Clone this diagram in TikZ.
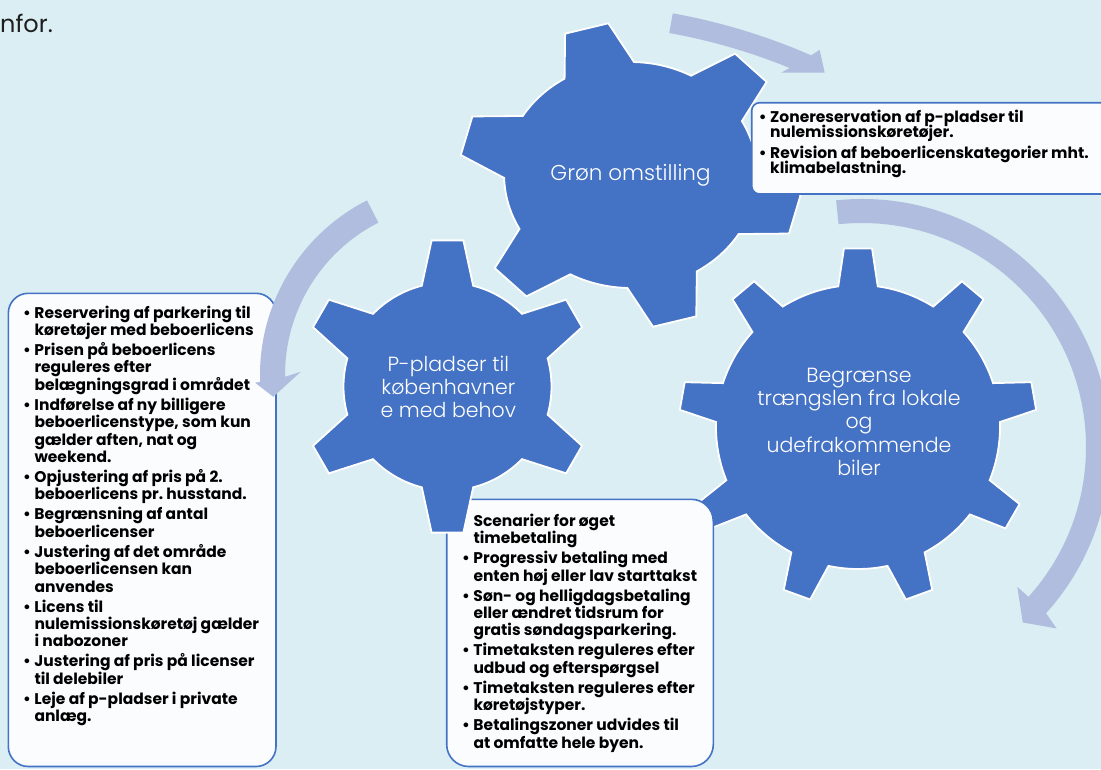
\documentclass[tikz,border=0pt]{standalone}
\usepackage{fontspec}
\setmainfont{Poppins}
\newfontfamily\tynd{Poppins Light}
\definecolor{baggrund}{HTML}{DAEEF3}
\definecolor{tandblaa}{HTML}{4472C4}
\definecolor{pilfarve}{HTML}{B0BDDF}
\definecolor{kassefyld}{HTML}{FAFCFD}
\definecolor{tekstgraa}{HTML}{1E1E1E}
\newlength{\radhoejde}
\newcommand{\linje}[1]{\hbox{\vrule height 0.7\radhoejde depth 0.3\radhoejde width 0pt\smash{#1}}}
\newcommand{\plinje}[1]{\linje{\llap{\textbullet\hspace{3.5pt}}#1}}
\newcommand{\tandhjul}[6]{%
  \pgfmathsetmacro\gstep{360/#1}%
  \pgfmathtruncatemacro\glast{#1-1}%
  \filldraw[gear] ({#2-#6}:#3)
    \foreach \k in {0,...,\glast}{
      -- ({#2+\k*\gstep-#5}:#4) -- ({#2+\k*\gstep+#5}:#4) -- ({#2+\k*\gstep+#6}:#3)
      arc[start angle={#2+\k*\gstep+#6}, end angle={#2+(\k+1)*\gstep-#6}, radius=#3]
    } -- cycle;
}
\begin{document}
\begin{tikzpicture}[x=1pt,y=-1pt,
    gear/.style={fill=tandblaa,draw=white,line width=1.8pt,line join=miter},
    pil/.style={fill=pilfarve},
    kasse/.style={fill=kassefyld,draw=tandblaa,line width=1.6pt,rounded corners=#1},
    kasse/.default=20pt,
    gtekst/.style={text=white,font=\tynd\fontsize{20.5}{23.3}\selectfont,align=center,inner sep=0pt},
    btekst/.style={font=\bfseries\fontsize{15.5}{17.4}\selectfont\frenchspacing,anchor=north west,inner sep=0pt,text=black}]
  \def\ig{2.6pt}
  \useasboundingbox (0,0) rectangle (1101,769);
  \clip (0,0) rectangle (1101,769);
  \fill[baggrund] (0,0) rectangle (1101,769);
  \node[anchor=west,inner sep=0pt,text=tekstgraa,font=\fontsize{24}{27}\selectfont] (infor) at (0,23) {nfor.};

  \draw[kasse=20pt] (8.3,293.3) rectangle (276,766.5);
  \node[btekst] (bPlads) at (34.3,305.8) {\vbox{\setlength{\radhoejde}{\baselineskip}\offinterlineskip
    \plinje{Reservering af parkering til}
    \linje{køretøjer med beboerlicens}\vskip\ig
    \plinje{Prisen på beboerlicens}
    \linje{reguleres efter}
    \linje{belægningsgrad i området}\vskip\ig
    \plinje{Indførelse af ny billigere}
    \linje{beboerlicenstype, som kun}
    \linje{gælder aften, nat og}
    \linje{weekend.}\vskip\ig
    \plinje{Opjustering af pris på 2.}
    \linje{beboerlicens pr. husstand.}\vskip\ig
    \plinje{Begrænsning af antal}
    \linje{beboerlicenser}\vskip\ig
    \plinje{Justering af det område}
    \linje{beboerlicensen kan}
    \linje{anvendes}\vskip\ig
    \plinje{Licens til}
    \linje{nulemissionskøretøj gælder}
    \linje{i nabozoner}\vskip\ig
    \plinje{Justering af pris på licenser}
    \linje{til delebiler}\vskip\ig
    \plinje{Leje af p-pladser i private}
    \linje{anlæg.}}};

  \begin{scope}[shift={(563,623.5)},yscale=-1]
    \fill[pil] (79.8:620) arc[start angle=79.8,end angle=66.4,radius=620] -- (65.9:628.5)
      -- (64.6:610) -- (68.4:592.4) -- (67.8:600) arc[start angle=67.8,end angle=79.8,radius=600] -- cycle;
  \end{scope}
  \begin{scope}[shift={(862,447)},yscale=-1]
    \fill[pil] (96:248) arc[start angle=96,end angle=-42.1,radius=248] -- (-43:266)
      -- (-47.5:238) -- (-42:209) -- (-42:224) arc[start angle=-42,end angle=96,radius=224] -- cycle;
  \end{scope}
  \begin{scope}[shift={(456,375)},yscale=-1]
    \fill[pil] (117:196) arc[start angle=117,end angle=182,radius=196] -- (182.2:201)
      -- (186.8:184) -- (178.8:155.3) -- (180.6:171) arc[start angle=180.6,end angle=117,radius=171] -- cycle;
  \end{scope}

  \begin{scope}[shift={(630.7,175)},yscale=-1,xscale=1.12]
    \tandhjul{6}{45}{113}{153}{7.5}{16.5}
  \end{scope}
  \begin{scope}[shift={(858,427)},yscale=-1]
    \tandhjul{9}{90}{142}{179}{4.5}{8}
  \end{scope}

  \draw[kasse=8pt] (751.7,102.7) rectangle (1115,194);
  \node[btekst,font=\bfseries\fontsize{15.5}{15}\selectfont\frenchspacing] (bGron) at (770,111.7) {\vbox{\setlength{\radhoejde}{\baselineskip}\offinterlineskip
    \plinje{Zonereservation af p-pladser til}
    \linje{nulemissionskøretøjer.}\vskip6.3pt
    \plinje{Revision af beboerlicenskategorier mht.}
    \linje{klimabelastning.}}};

  \draw[kasse=22pt] (446.7,499.3) rectangle (713.3,766.5);
  \node[btekst] (bTraengsel) at (473.3,514) {\vbox{\setlength{\radhoejde}{\baselineskip}\offinterlineskip
    \linje{Scenarier for øget}
    \linje{timebetaling}\vskip\ig
    \plinje{Progressiv betaling med}
    \linje{enten høj eller lav starttakst}\vskip\ig
    \plinje{Søn- og helligdagsbetaling}
    \linje{eller ændret tidsrum for}
    \linje{gratis søndagsparkering.}\vskip\ig
    \plinje{Timetaksten reguleres efter}
    \linje{udbud og efterspørgsel}\vskip\ig
    \plinje{Timetaksten reguleres efter}
    \linje{køretøjstyper.}\vskip\ig
    \plinje{Betalingszoner udvides til}
    \linje{at omfatte hele byen.}}};

  \begin{scope}[shift={(447.5,386.5)},yscale=-1]
    \tandhjul{6}{90}{104}{147}{6.2}{14.3}
  \end{scope}

  \node[gtekst,font=\tynd\fontsize{21.5}{23.3}\selectfont] (gGron) at (630.5,175) {Grøn omstilling};
  \node[gtekst] (gPlads) at (448.3,386.7) {P-pladser til\\københavner\\e med behov};
  \node[gtekst] (gTraengsel) at (859,421.7) {Begrænse\\trængslen fra lokale\\og\\udefrakommende\\biler};
\end{tikzpicture}
\end{document}
